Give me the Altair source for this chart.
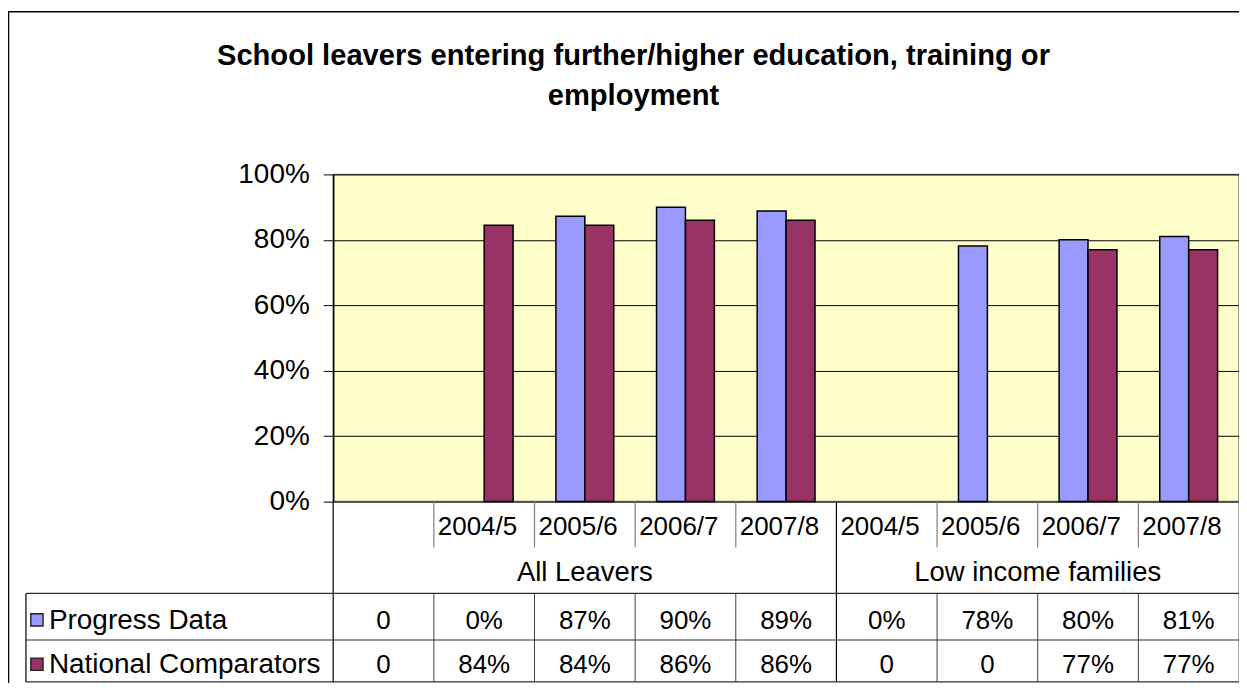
import altair as alt
import pandas as pd

# ---------------- data ----------------
groups = ["All Leavers"] * 5 + ["Low income families"] * 4
periods = ["", "2004/5", "2005/6", "2006/7", "2007/8", "2004/5", "2005/6", "2006/7", "2007/8"]
progress_values = [None, 0.0, 0.872, 0.90, 0.888, 0.0, 0.781, 0.80, 0.81]
national_values = [None, 0.845, 0.845, 0.86, 0.86, None, None, 0.77, 0.77]
progress_labels = ["0", "0%", "87%", "90%", "89%", "0%", "78%", "80%", "81%"]
national_labels = ["0", "84%", "84%", "86%", "86%", "0", "0", "77%", "77%"]
series_names = ["Progress Data", "National Comparators"]
series_colors = ["#9999FF", "#993366"]
y_ticks = [0, 0.2, 0.4, 0.6, 0.8, 1.0]
title_lines = ["School leavers entering further/higher education, training or", "employment"]

# ---------------- layout ----------------
FONT = "Arial, Liberation Sans, sans-serif"
W, H = 908, 328
CAT_Y = 353
GROUP_Y = 399.5
ROW_Y = [447.5, 492]
LINE_TOP = H
LINE_CAT = 374
LINE_R1 = 420
LINE_R2 = 466.7
LINE_BOT = 508.7
TABLE_LEFT = -308

keys = [f"c{i}" for i in range(len(periods))]
xscale = alt.Scale(domain=keys, paddingInner=0, paddingOuter=0)


def X(**kw):
    return alt.X("key:N", scale=xscale, axis=None, **kw)


# bars
rows = []
for k, pv, nv in zip(keys, progress_values, national_values):
    for s, v in zip(series_names, [pv, nv]):
        if v is not None and v > 0:
            rows.append({"key": k, "series": s, "value": v})
bars_df = pd.DataFrame(rows)

bars = alt.Chart(bars_df).mark_bar(stroke="black", strokeWidth=1.5).encode(
    x=X(),
    xOffset=alt.XOffset("series:N", sort=series_names,
                        scale=alt.Scale(domain=series_names, paddingInner=0, paddingOuter=0.74)),
    y=alt.Y("value:Q", scale=alt.Scale(domain=[0, 1], nice=False),
            axis=alt.Axis(values=y_ticks, format=".0%", title=None, labelFont=FONT,
                          labelFontSize=28, labelColor="black", tickColor="black",
                          tickSize=10, labelPadding=14, domainColor="black",
                          domainWidth=1.5, gridColor="black", gridWidth=1)),
    color=alt.Color("series:N", scale=alt.Scale(domain=series_names, range=series_colors),
                    legend=None),
)

cat_df = pd.DataFrame({"key": keys, "period": periods, "group": groups})

cat_text = alt.Chart(cat_df).mark_text(font=FONT, fontSize=26, align="left", dx=4,
                                       baseline="middle", color="black").encode(
    x=X(bandPosition=0), y=alt.value(CAT_Y), text="period:N")

layers = [bars, cat_text]

# group labels centred on their span
group_names = list(dict.fromkeys(groups))
for g in group_names:
    idx = [i for i, gg in enumerate(groups) if gg == g]
    mid = (idx[0] + idx[-1] + 1) / 2
    base = int(mid)
    bp = mid - base
    gdf = pd.DataFrame({"key": [keys[base]], "group": [g]})
    layers.append(alt.Chart(gdf).mark_text(font=FONT, fontSize=27.5, baseline="middle", color="black").encode(
        x=X(bandPosition=bp), y=alt.value(GROUP_Y), text="group:N"))

# data table values
for labels, yy in zip([progress_labels, national_labels], ROW_Y):
    tdf = pd.DataFrame({"key": keys, "label": labels})
    layers.append(alt.Chart(tdf).mark_text(font=FONT, fontSize=26, baseline="middle", color="black").encode(
        x=X(), y=alt.value(yy), text="label:N"))

# legend keys in the table
one = pd.DataFrame({"a": [0]})
for name, col, yy in zip(series_names, series_colors, ROW_Y):
    layers.append(alt.Chart(one).mark_point(shape="square", filled=True, size=150, opacity=1,
                                            stroke="#222222", strokeWidth=1.4).encode(
        x=alt.value(-297), y=alt.value(yy - 1), fill=alt.value(col)))
    layers.append(alt.Chart(one).mark_text(font=FONT, fontSize=28, align="left", baseline="middle",
                                           color="black").encode(
        x=alt.value(-285), y=alt.value(yy), text=alt.value(name)))


def hline(y, x1, x2, color="black", w=1.0):
    return alt.Chart(one).mark_rule(color=color, strokeWidth=w).encode(
        x=alt.value(x1), x2=alt.value(x2), y=alt.value(y))


def vrule(df, y1, y2, bp=0, color="black", w=1.0):
    return alt.Chart(df).mark_rule(color=color, strokeWidth=w).encode(
        x=X(bandPosition=bp), y=alt.value(y1), y2=alt.value(y2))


group_starts = [keys[groups.index(g)] for g in group_names]
inner = [k for k in keys if k not in group_starts]

layers.append(vrule(pd.DataFrame({"key": inner}), LINE_TOP, LINE_CAT, color="#808080", w=1.2))
layers.append(vrule(pd.DataFrame({"key": inner}), LINE_R1, LINE_BOT, color="#404040", w=1.0))
layers.append(vrule(pd.DataFrame({"key": group_starts}), LINE_TOP, LINE_BOT, color="black", w=1.2))
layers.append(vrule(pd.DataFrame({"key": [keys[-1]]}), LINE_TOP, LINE_BOT, bp=1, color="#808080", w=1.2))
layers.append(alt.Chart(one).mark_rule(color="black", strokeWidth=1.2).encode(
    x=alt.value(TABLE_LEFT), y=alt.value(LINE_R1), y2=alt.value(LINE_BOT)))
for yy in [LINE_R1, LINE_R2, LINE_BOT]:
    layers.append(hline(yy, TABLE_LEFT, W, color="#303030", w=1.2))

# outer chart frame (left and top edges visible)
layers.append(alt.Chart(one).mark_rule(color="black", strokeWidth=1.5).encode(
    x=alt.value(-325.5), y=alt.value(-163), y2=alt.value(530)))
layers.append(hline(-163, -326, W + 20, color="black", w=1.5))

# title
for line, yy in zip(title_lines, [-119, -79]):
    layers.append(alt.Chart(one).mark_text(font=FONT, fontSize=29.2, fontWeight="bold", align="center",
                                           baseline="middle", color="black").encode(
        x=alt.value(301), y=alt.value(yy), text=alt.value(line)))

chart = alt.layer(*layers).properties(
    width=W, height=H,
    autosize=alt.AutoSizeParams(type="none"),
    padding={"left": 326, "top": 166, "right": 0, "bottom": 181},
    background="white",
).configure_view(fill="#FFFFCC", stroke="#808080", strokeWidth=1.5)

chart.save("out.html", embed_options={"renderer": "svg", "actions": False})
